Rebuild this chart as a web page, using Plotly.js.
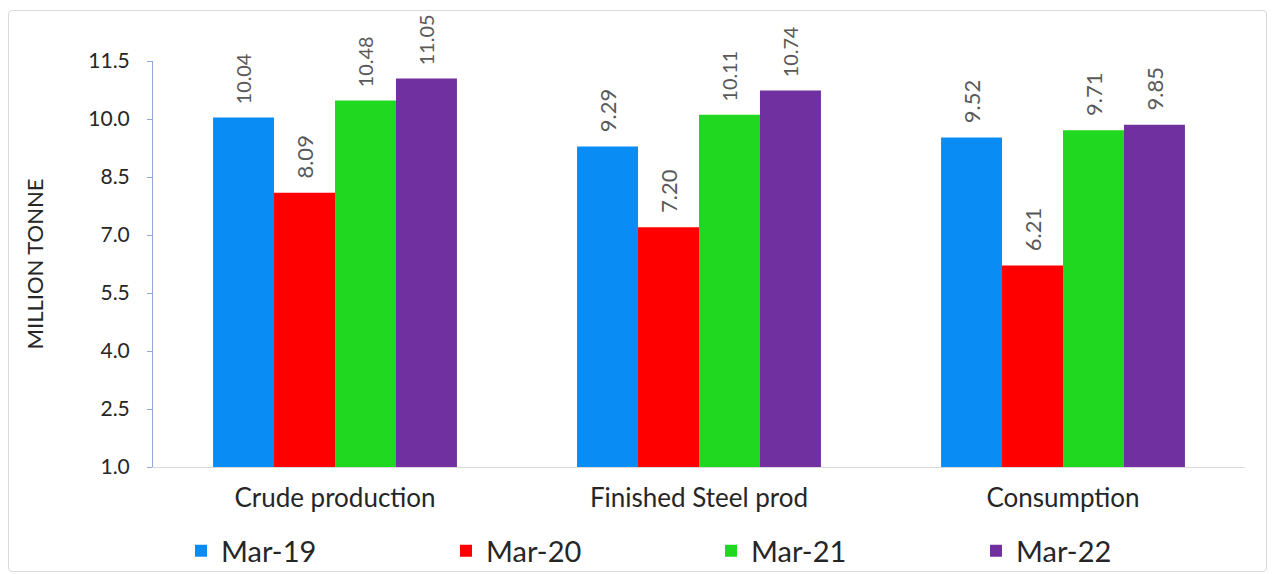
<!DOCTYPE html>
<html>
<head>
<meta charset="utf-8">
<script src="https://cdn.plot.ly/plotly-3.0.1.min.js"></script>
<style>
html,body{margin:0;padding:0;background:#fff;}
#frame{position:absolute;left:8px;top:10px;width:1257px;height:560px;border:1px solid #d9d9d9;border-radius:4px;}
#chart{position:absolute;left:0;top:0;width:1273px;height:574px;}
</style>
</head>
<body>
<div id="frame"></div>
<div id="chart"></div>
<script>
const categories = ["Crude production", "Finished Steel prod", "Consumption"];
const seriesNames = ["Mar-19", "Mar-20", "Mar-21", "Mar-22"];
const mar19 = [10.04, 9.29, 9.52];
const mar20 = [8.09, 7.20, 6.21];
const mar21 = [10.48, 10.11, 9.71];
const mar22 = [11.05, 10.74, 9.85];
const yTicks = [1.0, 2.5, 4.0, 5.5, 7.0, 8.5, 10.0, 11.5];

const colors = ["#0a8cf5", "#ff0000", "#1fd81f", "#7030a0"];
const allSeries = [mar19, mar20, mar21, mar22];
const FONT = "Lato, Open Sans, sans-serif";

const traces = allSeries.map((vals, i) => ({
  type: "bar",
  name: seriesNames[i],
  x: categories,
  y: vals,
  marker: {color: colors[i]},
  text: vals.map(v => "\u00a0\u00a0" + v.toFixed(2)),
  textposition: "outside",
  textangle: -90,
  textfont: {family: FONT, size: 22, color: "#595959"},
  cliponaxis: false
}));

const layout = {
  width: 1273, height: 574,
  paper_bgcolor: "rgba(0,0,0,0)",
  plot_bgcolor: "rgba(0,0,0,0)",
  margin: {l: 153, r: 28, t: 61, b: 107, autoexpand: false},
  barmode: "group",
  bargap: 0.33,
  bargroupgap: 0,
  showlegend: true,
  legend: {
    orientation: "h", xref: "container", yref: "container",
    x: 181 / 1273, xanchor: "left", y: 1 - 551 / 574, yanchor: "middle",
    font: {family: FONT, size: 29, color: "#262626"},
    entrywidth: 220, entrywidthmode: "pixels",
    itemwidth: 30, traceorder: "normal"
  },
  xaxis: {
    type: "category",
    range: [-0.5, 2.5],
    showline: true, linecolor: "#d9d9d9", linewidth: 1,
    ticks: "", showgrid: false,
    ticklabelstandoff: 8,
    tickfont: {family: FONT, size: 26, color: "#262626"}
  },
  yaxis: {
    range: [1.0, 11.5],
    tickvals: yTicks,
    ticktext: yTicks.map(v => v.toFixed(1)),
    showline: true, linecolor: "#8eaadb", linewidth: 1,
    ticks: "outside", ticklen: 5, tickcolor: "#8eaadb",
    ticklabelstandoff: 13,
    showgrid: false, zeroline: false,
    tickfont: {family: FONT, size: 21, color: "#262626"},
    title: {text: "MILLION TONNE", standoff: 38, font: {family: FONT, size: 22, color: "#262626"}}
  }
};

Plotly.newPlot("chart", traces, layout, {displayModeBar: false, staticPlot: true});
</script>
</body>
</html>
